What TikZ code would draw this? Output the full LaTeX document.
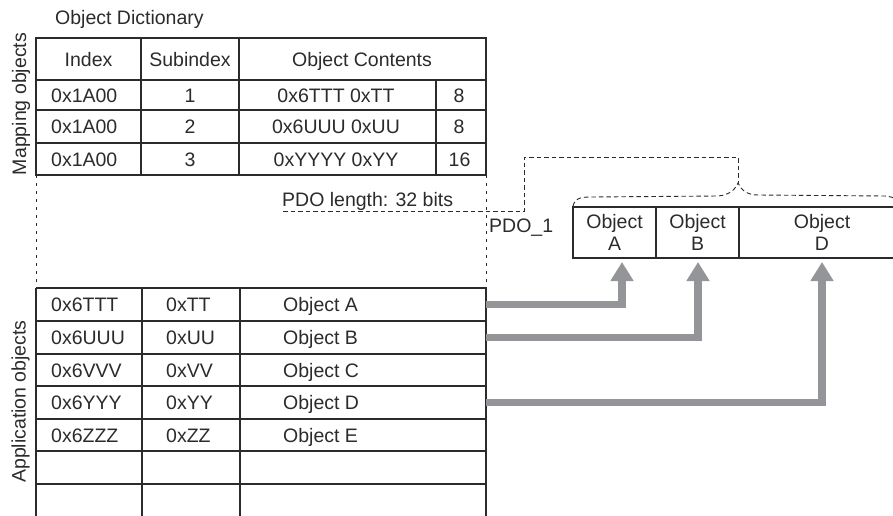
\documentclass[tikz,border=0pt]{standalone}
\usepackage{fontspec}
\setmainfont{Liberation Sans}
\usetikzlibrary{arrows.meta}
\definecolor{ink}{HTML}{2B2B2B}
\definecolor{arrowgray}{HTML}{939598}
\begin{document}
\begin{tikzpicture}[x=1pt,y=-1pt,
  txt/.style={inner sep=0pt, text height=14pt, text depth=0pt, font=\fontsize{19.5}{22}\selectfont, text=ink},
  grid/.style={draw=ink, line width=1.3pt},
  side/.style={draw=ink, line width=0.9pt, dash pattern=on 3pt off 5pt},
  pdo/.style={draw=ink, line width=0.9pt, dash pattern=on 4.5pt off 3pt},
  objbox/.style={draw=ink, line width=1.3pt, inner sep=0pt, minimum height=51pt, align=center, font=\fontsize{19.5}{22}\selectfont, text=ink},
  flow/.style={draw=arrowgray, line width=7.5pt, line join=miter, -{Triangle[length=19pt,width=22pt]}},
]
\useasboundingbox (0,0) rectangle (893,515);
\clip (0,0) rectangle (893,515);

% titles and side labels
\node[txt, anchor=west] (title) at (55,17.5) {Object Dictionary};
\node[txt, rotate=90] (maplbl) at (19,104) {Mapping objects};
\node[txt, rotate=90] (applbl) at (18.5,401.5) {Application objects};

% mapping table
\draw[grid] (36,38) rectangle (486,175);
\foreach \y in {80,110,143} \draw[grid] (36,\y) -- (486,\y);
\draw[grid] (141,38) -- (141,175);
\draw[grid] (239,38) -- (239,175);
\draw[grid] (436,80) -- (436,175);

\node[txt] (hIndex) at (88.5,59) {Index};
\node[txt] (hSub) at (190,59) {Subindex};
\node[txt] (hCont) at (362,59) {Object Contents};

\node[txt, anchor=west] (m1i) at (51,95) {0x1A00};
\node[txt] (m1s) at (190,95) {1};
\node[txt] (m1c) at (336,95) {0x6TTT 0xTT};
\node[txt] (m1l) at (459,95) {8};

\node[txt, anchor=west] (m2i) at (51,126.5) {0x1A00};
\node[txt] (m2s) at (190,126.5) {2};
\node[txt] (m2c) at (336,126.5) {0x6UUU 0xUU};
\node[txt] (m2l) at (459,126.5) {8};

\node[txt, anchor=west] (m3i) at (51,159) {0x1A00};
\node[txt] (m3s) at (190,159) {3};
\node[txt] (m3c) at (336,159) {0xYYYY 0xYY};
\node[txt] (m3l) at (459.5,159) {16};

% dashed sides between tables
\draw[side] (36,175) -- (36,288);
\draw[side] (486,175) -- (486,288);

% PDO length and mapping bracket
\node[txt, anchor=west] (pdolen) at (282,199.5) {PDO length: 32 bits};
\coordinate (pl0) at (283,211);
\coordinate (peak) at (738,183);
\draw[pdo] (pl0) -- (524,211) -- (524,157) -- (738,157) -- (peak);
\draw[pdo] (573,206) .. controls (575,199) and (579,197) .. (590,197)
  -- (718,196) .. controls (729,195) and (735,190) .. (peak)
  .. controls (741,190) and (747,195) .. (758,195)
  -- (885,196) .. controls (895,197) and (900,200) .. (903,207);
\node[txt, anchor=west] (pdo1) at (489,225.5) {PDO\_1};

% PDO objects
\node[objbox, minimum width=83pt] (objA) at (614.5,232.5) {Object\\A};
\node[objbox, minimum width=83pt] (objB) at (697.5,232.5) {Object\\B};
\node[objbox, minimum width=166pt] (objD) at (822,232.5) {Object\\D};

% application table
\draw[grid] (36,288) -- (486,288);
\foreach \y in {321,354,386,419,451,484} \draw[grid] (36,\y) -- (486,\y);
\foreach \x in {36,142,240,486} \draw[grid] (\x,288) -- (\x,520);

\node[txt, anchor=west] (a1i) at (51,304.5) {0x6TTT};
\node[txt, anchor=west] (a1s) at (166,304.5) {0xTT};
\node[txt, anchor=west] (rowA) at (283,304.5) {Object A};
\node[txt, anchor=west] (a2i) at (51,337.5) {0x6UUU};
\node[txt, anchor=west] (a2s) at (166,337.5) {0xUU};
\node[txt, anchor=west] (rowB) at (283,337.5) {Object B};
\node[txt, anchor=west] (a3i) at (51,370) {0x6VVV};
\node[txt, anchor=west] (a3s) at (166,370) {0xVV};
\node[txt, anchor=west] (rowC) at (283,370) {Object C};
\node[txt, anchor=west] (a4i) at (51,402.5) {0x6YYY};
\node[txt, anchor=west] (a4s) at (166,402.5) {0xYY};
\node[txt, anchor=west] (rowD) at (283,402.5) {Object D};
\node[txt, anchor=west] (a5i) at (51,435) {0x6ZZZ};
\node[txt, anchor=west] (a5s) at (166,435) {0xZZ};
\node[txt, anchor=west] (rowE) at (283,435) {Object E};

% arrows
\coordinate (srcA) at (486,304.5);
\coordinate (srcB) at (486,337.5);
\coordinate (srcD) at (486,402.5);
\coordinate (dstA) at (622,262);
\coordinate (dstB) at (698,262);
\coordinate (dstD) at (822,262);
\draw[flow] (srcA) -| (dstA);
\draw[flow] (srcB) -| (dstB);
\draw[flow] (srcD) -| (dstD);
\end{tikzpicture}
\end{document}
